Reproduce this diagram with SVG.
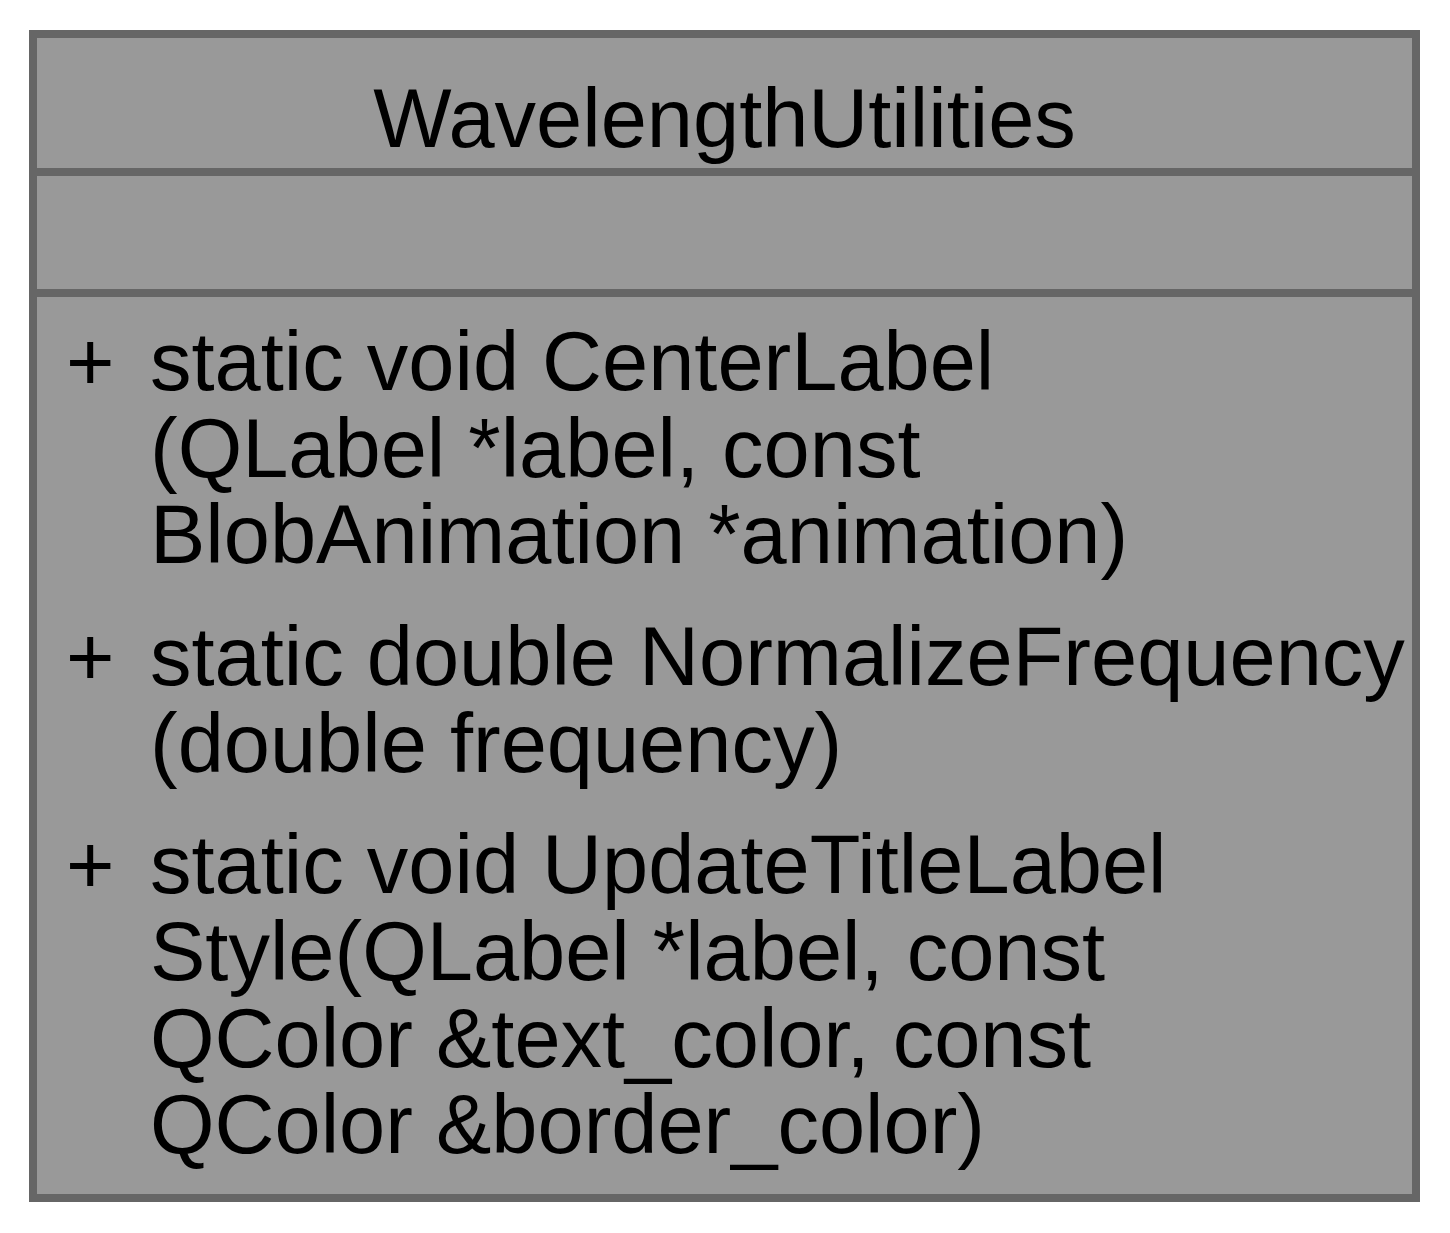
<svg xmlns="http://www.w3.org/2000/svg" width="1450" height="1233" viewBox="0 0 1450 1233">
  <style>
    .box { fill: #999999; stroke: #666666; stroke-width: 8; }
    .sep { stroke: #666666; stroke-width: 8; fill: none; }
    text { font-family: "Liberation Sans", Arial, Helvetica, sans-serif; font-size: 83px; fill: #000000; }
    .title { text-anchor: middle; }
  </style>
  <rect width="1450" height="1233" fill="#ffffff"/>
  <g id="node_WavelengthUtilities">
    <rect class="box" x="33" y="34" width="1383" height="1164"/>
    <text class="title" x="724.5" y="147">WavelengthUtilities</text>
    <line class="sep" x1="33" y1="172" x2="1416" y2="172"/>
    <line class="sep" x1="33" y1="293" x2="1416" y2="293"/>
    <!-- member functions -->
    <text x="66" y="390">+</text>
    <text x="150" y="390">static void CenterLabel</text>
    <text x="150" y="476.5">(QLabel *label, const</text>
    <text x="150" y="563">BlobAnimation *animation)</text>
    <text x="66" y="685">+</text>
    <text x="150" y="685">static double NormalizeFrequency</text>
    <text x="150" y="771.5">(double frequency)</text>
    <text x="66" y="893">+</text>
    <text x="150" y="893">static void UpdateTitleLabel</text>
    <text x="150" y="980">Style(QLabel *label, const</text>
    <text x="150" y="1066.5">QColor &amp;text_color, const</text>
    <text x="150" y="1153">QColor &amp;border_color)</text>
  </g>
  <g id="connectors"></g>
</svg>
